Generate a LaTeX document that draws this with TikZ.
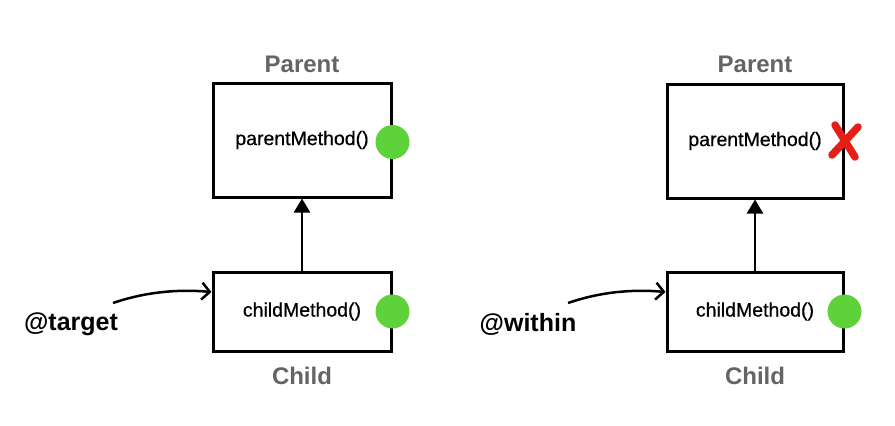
\documentclass[tikz,border=0pt]{standalone}
\usepackage{fontspec}
\setmainfont{Liberation Sans}
\newfontface\medfont{Liberation Sans}[FakeBold=0.6]
\usetikzlibrary{arrows.meta,calc}
\definecolor{okgreen}{RGB}{94,210,58}
\definecolor{titlegray}{RGB}{100,100,100}
\definecolor{crossred}{RGB}{232,30,22}
\tikzset{
  classbox/.style={draw=black, line width=3pt, fill=white, inner sep=0pt, font=\medfont\fontsize{19.5}{22}\selectfont},
  title/.style={text=titlegray, font=\bfseries\fontsize{24}{26}\selectfont, inner sep=0pt},
  anno/.style={font=\bfseries\fontsize{25}{28}\selectfont, inner sep=0pt},
  okdot/.style={circle, fill=okgreen, minimum size=34pt, inner sep=0pt},
  inherit/.style={line width=2.5pt, -{Triangle[width=16pt,length=14pt]}},
  pointer/.style={line width=2.5pt, -{Straight Barb[length=8pt,width=17pt,line width=2.5pt]}},
  crossline/.style={draw=crossred, line width=7.5pt, line cap=round}
}
\begin{document}
\begin{tikzpicture}[x=1pt,y=-1pt]
\useasboundingbox (0,0) rectangle (895,426);
% left diagram
\node[classbox, minimum width=178pt, minimum height=114pt] (lp) at (302,140) {parentMethod()};
\node[classbox, minimum width=178pt, minimum height=79pt] (lc) at (302,311.5) {childMethod()};
\node[title] (lpt) at (302,64) {Parent};
\node[title] (lct) at (302,376) {Child};
\node[okdot] (lpd) at ([yshift=-2pt]lp.east) {};
\node[okdot] (lcd) at (lc.east) {};
\draw[inherit] (lc.north) -- (lp.south);
\node[anno] (lt) at (71,324) {@target};
\coordinate (ls) at (113,303);
\draw[pointer] (ls) .. controls (145,292) and (178,289) .. ([yshift=19.5pt]lc.west);
% right diagram
\node[classbox, minimum width=176pt, minimum height=114pt] (rp) at (755,141) {parentMethod()};
\node[classbox, minimum width=176pt, minimum height=79pt] (rc) at (755,311.5) {childMethod()};
\node[title] (rpt) at (755,64) {Parent};
\node[title] (rct) at (755,376) {Child};
\node[okdot] (rcd) at (rc.east) {};
\draw[inherit] (rc.north) -- (rp.south);
\node[anno] (rt) at (528,324) {@within};
\coordinate (rs) at (568,303);
\draw[pointer] (rs) .. controls (600,292) and (632,289) .. ([yshift=19.5pt]rc.west);
% red cross
\coordinate (x0) at (845,141);
\draw[crossline] ($(x0)+(-10,-16)$) -- ($(x0)+(10,16)$);
\draw[crossline] ($(x0)+(13,-14)$) -- ($(x0)+(-13,14)$);
\end{tikzpicture}
\end{document}
